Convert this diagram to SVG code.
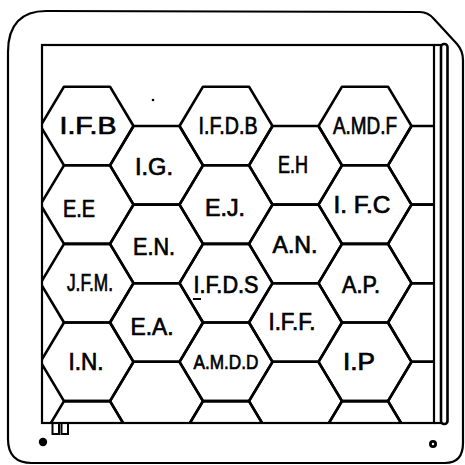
<svg xmlns="http://www.w3.org/2000/svg" xmlns:xlink="http://www.w3.org/1999/xlink" width="465" height="465" viewBox="0 0 465 465">
<style>
.hex{fill:none;stroke:#000;stroke-width:2.6;stroke-linejoin:round}
.lbl{font-family:"Liberation Sans",Arial,sans-serif;font-size:23px;fill:#000;stroke:#000;stroke-width:0.7;text-anchor:middle}
.frame{fill:none;stroke:#000;stroke-width:2.2}
.outer{fill:none;stroke:#000;stroke-width:2.2;stroke-linejoin:round}
</style>
<defs>
<polygon id="hex" points="-46.5,0 -23,-39.3 23,-39.3 46.5,0 23,39.3 -23,39.3"/>
<clipPath id="clip"><rect x="42" y="45" width="392" height="378"/></clipPath>
</defs>
<rect width="465" height="465" fill="#fff"/>
<g id="outer-border">
<path class="outer" d="M8,52 C8,24 22,11 46,11 L420,12 Q428,12 434,19 L457,44 Q463,51 463,60 L463,443 Q463,463 445,463 L32,463 Q8,463 8,439 Z"/>
</g>
<g id="connectors" clip-path="url(#clip)">
<use href="#hex" class="hex" x="434.5" y="165.3"/>
<use href="#hex" class="hex" x="434.5" y="243.9"/>
<use href="#hex" class="hex" x="434.5" y="322.5"/>
<use href="#hex" class="hex" x="434.5" y="401.1"/>
<use href="#hex" class="hex" x="156.5" y="401.1"/>
<use href="#hex" class="hex" x="295.5" y="401.1"/>
<use href="#hex" class="hex" x="87" y="440.4"/>
<use href="#hex" class="hex" x="226" y="440.4"/>
<use href="#hex" class="hex" x="365" y="440.4"/>
</g>
<g clip-path="url(#clip)">
<g id="IFB"><use href="#hex" class="hex" x="87" y="126"/><text class="lbl" x="88" y="134" textLength="57" lengthAdjust="spacingAndGlyphs">I.F.B</text></g>
<g id="IFDB"><use href="#hex" class="hex" x="226" y="126"/><text class="lbl" x="228" y="134" textLength="59" lengthAdjust="spacingAndGlyphs">I.F.D.B</text></g>
<g id="AMDF"><use href="#hex" class="hex" x="365" y="126"/><text class="lbl" x="365" y="134" textLength="64" lengthAdjust="spacingAndGlyphs">A.MD.F</text></g>
<g id="IG"><use href="#hex" class="hex" x="156.5" y="165.3"/><text class="lbl" x="154" y="175" textLength="38" lengthAdjust="spacingAndGlyphs">I.G.</text></g>
<g id="EH"><use href="#hex" class="hex" x="295.5" y="165.3"/><text class="lbl" x="293" y="173" textLength="30" lengthAdjust="spacingAndGlyphs">E.H</text></g>
<g id="EE"><use href="#hex" class="hex" x="87" y="204.6"/><text class="lbl" x="79" y="217" textLength="32" lengthAdjust="spacingAndGlyphs">E.E</text></g>
<g id="EJ"><use href="#hex" class="hex" x="226" y="204.6"/><text class="lbl" x="225" y="216" textLength="40" lengthAdjust="spacingAndGlyphs">E.J.</text></g>
<g id="IFC"><use href="#hex" class="hex" x="365" y="204.6"/><text class="lbl" x="362" y="213" textLength="57" lengthAdjust="spacingAndGlyphs">I. F.C</text></g>
<g id="EN"><use href="#hex" class="hex" x="156.5" y="243.9"/><text class="lbl" x="154" y="255" textLength="42" lengthAdjust="spacingAndGlyphs">E.N.</text></g>
<g id="AN"><use href="#hex" class="hex" x="295.5" y="243.9"/><text class="lbl" x="295" y="253" textLength="45" lengthAdjust="spacingAndGlyphs">A.N.</text></g>
<g id="JFM"><use href="#hex" class="hex" x="87" y="283.2"/><text class="lbl" x="90" y="291" textLength="46" lengthAdjust="spacingAndGlyphs">J.F.M.</text></g>
<g id="IFDS"><use href="#hex" class="hex" x="226" y="283.2"/><text class="lbl" x="226" y="293" textLength="65" lengthAdjust="spacingAndGlyphs">I.F.D.S</text><line x1="193" y1="299" x2="201" y2="299" stroke="#000" stroke-width="2"/></g>
<g id="AP"><use href="#hex" class="hex" x="365" y="283.2"/><text class="lbl" x="361" y="293" textLength="38" lengthAdjust="spacingAndGlyphs">A.P.</text></g>
<g id="EA"><use href="#hex" class="hex" x="156.5" y="322.5"/><text class="lbl" x="152" y="335" textLength="43" lengthAdjust="spacingAndGlyphs">E.A.</text></g>
<g id="IFF"><use href="#hex" class="hex" x="295.5" y="322.5"/><text class="lbl" x="292" y="330" textLength="47" lengthAdjust="spacingAndGlyphs">I.F.F.</text></g>
<g id="IN"><use href="#hex" class="hex" x="87" y="361.8"/><text class="lbl" x="86" y="370" textLength="35" lengthAdjust="spacingAndGlyphs">I.N.</text></g>
<g id="AMDD"><use href="#hex" class="hex" x="226" y="361.8"/><text class="lbl" x="226" y="369" textLength="65" lengthAdjust="spacingAndGlyphs" style="font-size:21px">A.M.D.D</text></g>
<g id="IP"><use href="#hex" class="hex" x="365" y="361.8"/><text class="lbl" x="359" y="370" textLength="32" lengthAdjust="spacingAndGlyphs">I.P</text></g>
</g>
<g id="frame">
<rect class="frame" x="42" y="45" width="392" height="378"/>
<line class="frame" x1="434" y1="45" x2="441" y2="45"/>
<line class="frame" x1="434" y1="423" x2="441" y2="423"/>
<rect x="441" y="44" width="6.5" height="380" rx="3" fill="#fff" stroke="#000" stroke-width="2.6"/>
<path d="M52.5,423 V434 H59 V423 M61.5,423 V434 H68 V423" fill="none" stroke="#000" stroke-width="2"/>
</g>
<g id="holes">
<circle cx="43" cy="442" r="4.2" fill="#000"/>
<circle cx="433" cy="444" r="4" fill="#000"/>
<circle cx="433" cy="444" r="1.2" fill="#fff"/>
<circle cx="153" cy="100" r="1.3" fill="#000"/>
</g>
</svg>
